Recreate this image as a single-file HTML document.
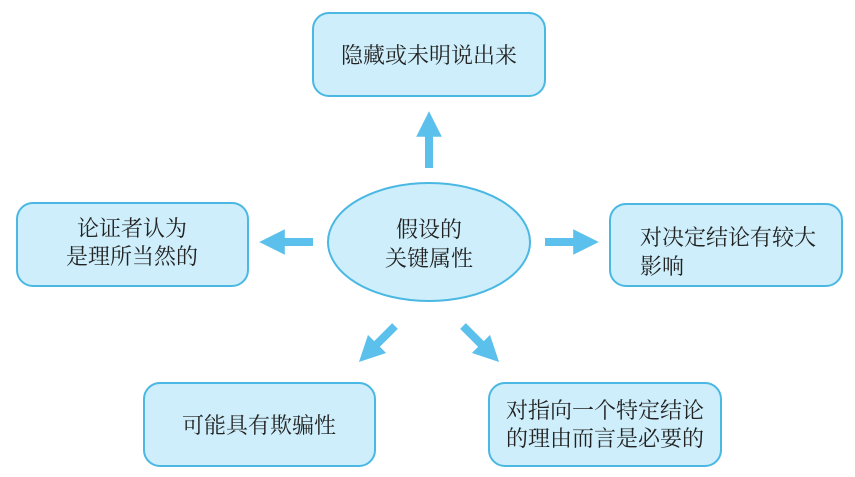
<!DOCTYPE html>
<html><head><meta charset="utf-8"><style>
html,body{margin:0;padding:0;background:#fff;width:855px;height:477px;overflow:hidden}
svg text{font-family:"Liberation Serif","Noto Serif CJK SC",serif;font-size:22px;fill:#222}
</style></head><body>
<svg width="855" height="477" viewBox="0 0 855 477">
<defs>
<marker id="a" viewBox="0 0 10 10" refX="5" refY="5" markerWidth="3.2" markerHeight="3.2" orient="auto" markerUnits="strokeWidth">
<path d="M0,0 L10,5 L0,10 z" fill="#5bc0ec"/></marker>
</defs>
<g fill="#cdeefa" stroke="#4ab8e3" stroke-width="2">
<rect x="313" y="13" width="232" height="83" rx="16"/>
<rect x="17" y="203" width="231" height="83" rx="16"/>
<rect x="610" y="204" width="232" height="82" rx="16"/>
<rect x="144" y="383" width="231" height="83" rx="16"/>
<rect x="489" y="383" width="232" height="83" rx="16"/>
<ellipse cx="429" cy="242" rx="101" ry="59"/>
</g>
<g stroke="#5bc0ec" stroke-width="8" marker-end="url(#a)">
<line x1="429" y1="168" x2="429" y2="124"/>
<line x1="545" y1="242" x2="586" y2="242"/>
<line x1="313" y1="242" x2="272" y2="242"/>
<line x1="395" y1="326" x2="368" y2="353"/>
<line x1="463" y1="326" x2="490" y2="353"/>
</g>
<text x="429" y="63" text-anchor="middle">隐藏或未明说出来</text>
<text x="132" y="236" text-anchor="middle">论证者认为</text>
<text x="132" y="264" text-anchor="middle">是理所当然的</text>
<text x="429" y="237" text-anchor="middle">假设的</text>
<text x="429" y="266" text-anchor="middle">关键属性</text>
<text x="640" y="245">对决定结论有较大</text>
<text x="640" y="274">影响</text>
<text x="259" y="433" text-anchor="middle">可能具有欺骗性</text>
<text x="605" y="418" text-anchor="middle">对指向一个特定结论</text>
<text x="605" y="446" text-anchor="middle">的理由而言是必要的</text>
</svg>
</body></html>
